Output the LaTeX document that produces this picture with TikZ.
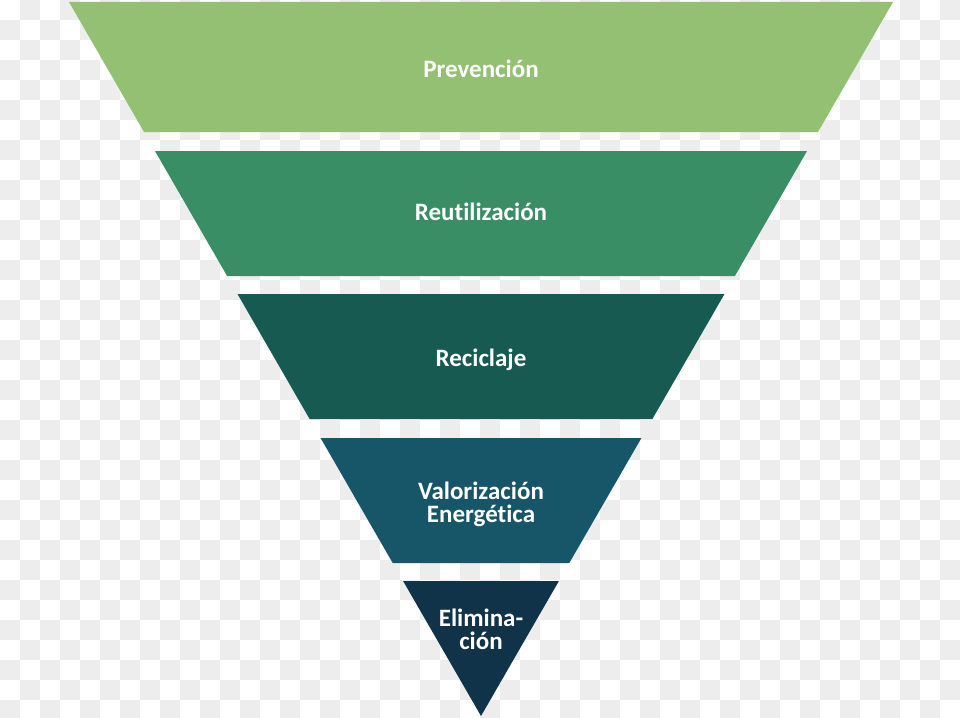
\documentclass[tikz,border=0pt]{standalone}
\usepackage{fontspec}
\setmainfont{Carlito}[Ligatures=NoCommon]
\definecolor{checkgray}{HTML}{EDEDED}
\definecolor{cA}{HTML}{93C072}
\definecolor{cB}{HTML}{3A8E66}
\definecolor{cC}{HTML}{175A52}
\definecolor{cD}{HTML}{175668}
\definecolor{cE}{HTML}{10334A}
\tikzset{
  lbl/.style={text=white, font=\bfseries\fontsize{25}{23}\selectfont, align=center, inner sep=0pt}
}
\begin{document}
\begin{tikzpicture}[x=1pt,y=-1pt]
\useasboundingbox (0,0) rectangle (960,717);
\begin{scope}
\clip (0,0) rectangle (960,717);
\foreach \j in {0,...,35}{
  \pgfmathtruncatemacro\s{mod(\j+1,2)}
  \foreach \i in {0,2,...,46}{
    \fill[checkgray] ({(\i+\s)*20},{\j*20}) rectangle ++(20,20);
  }
}
\end{scope}
% funnel levels; edges on lines from (69,2)/(893,2) to apex (481,716)
\pgfmathsetmacro\k{412/714}
\newcommand\lvl[4]{% top y, bottom y, colour, name
  \fill[#3] ({69+\k*(#1-2)},#1) -- ({893-\k*(#1-2)},#1) -- ({893-\k*(#2-2)},#2) -- ({69+\k*(#2-2)},#2) -- cycle;
}
\lvl{2}{132}{cA}{a}
\lvl{151}{276}{cB}{b}
\lvl{294}{419}{cC}{c}
\lvl{438}{563}{cD}{d}
\fill[cE] ({69+\k*579},581) -- ({893-\k*579},581) -- (481,716) -- cycle;
\node[lbl] (pa) at (481,69) {Prevención};
\node[lbl] (pb) at (481,212) {Reutilización};
\node[lbl] (pc) at (481,360) {Reciclaje};
\node[lbl] (pd) at (481,504) {Valorización\\Energética};
\node[lbl] (pe) at (481,629) {Elimina-\\ción};
\end{tikzpicture}
\end{document}
